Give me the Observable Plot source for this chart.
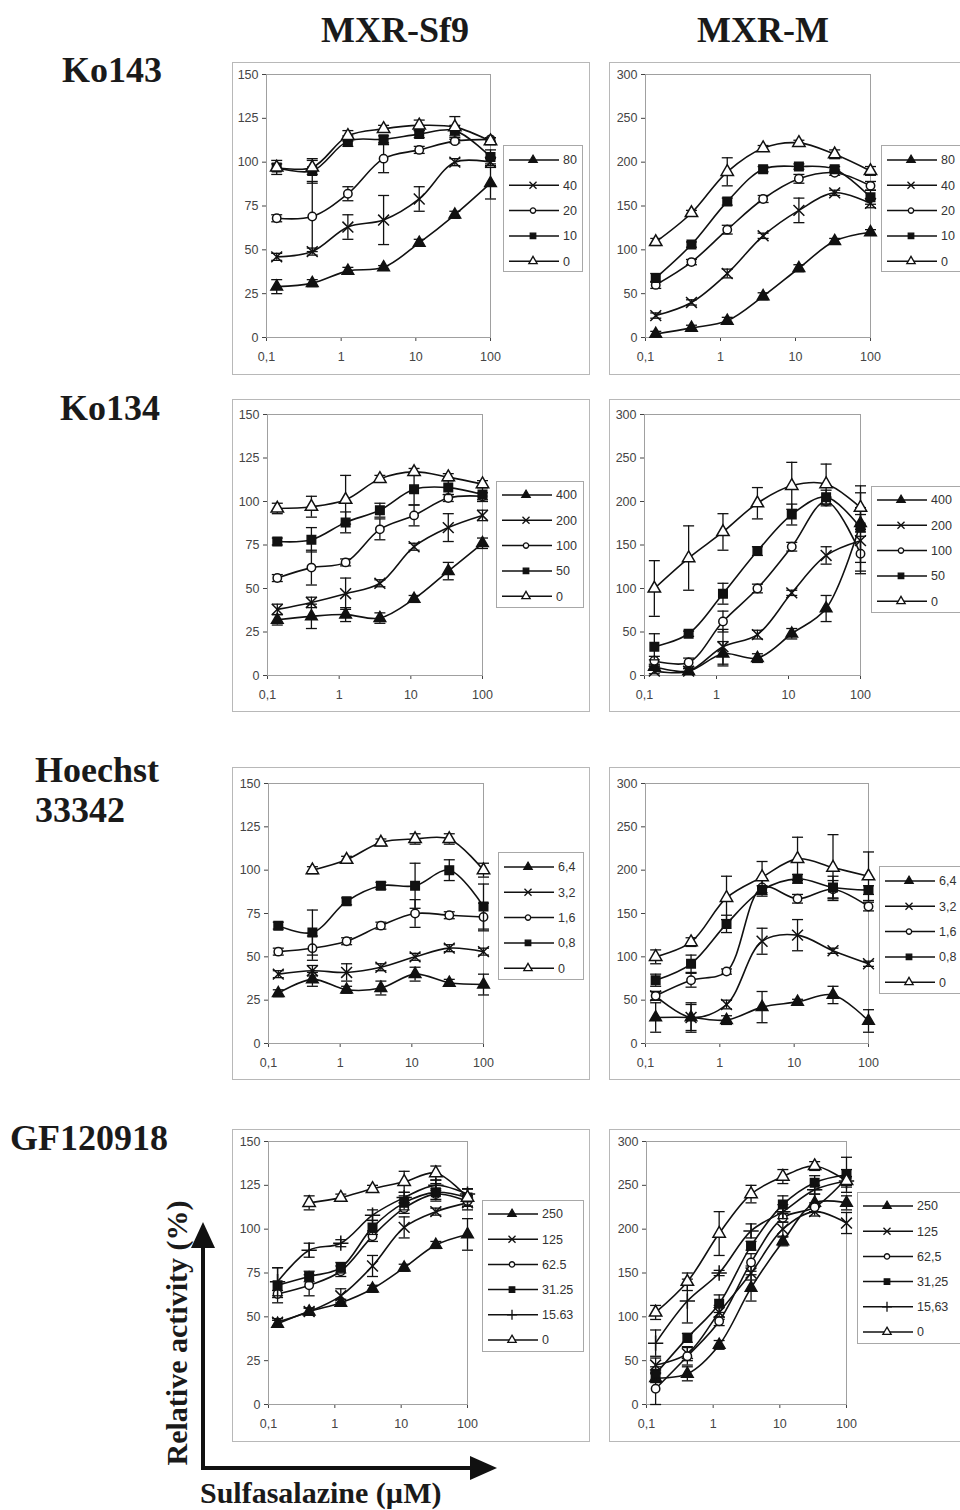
<!DOCTYPE html>
<html>
<head>
<meta charset="utf-8">
<script src="https://cdn.jsdelivr.net/npm/d3@7"></script>
<script src="https://cdn.jsdelivr.net/npm/@observablehq/plot@0.6"></script>
<style>
  html, body { margin: 0; padding: 0; background: #fff; }
  body { width: 960px; height: 1510px; position: relative; overflow: hidden; }
  .panel { position: absolute; }
  .panel .border { position: absolute; left: 0; top: 0; right: 0; bottom: 0; border: 1px solid #b8b8b8; box-sizing: border-box; }
  .panel svg.plot { position: absolute; left: 0; top: 0; }
  .legend { position: absolute; border: 1px solid #a8a8a8; background: #fff; box-sizing: border-box; }
  .legend svg { position: absolute; left: 0; top: 0; overflow: visible; }
  #overlay { position: absolute; left: 0; top: 0; }
</style>
</head>
<body>
<svg id="overlay" width="960" height="1510" font-family="'Liberation Serif', 'Times New Roman', serif" font-weight="bold" fill="#1a1a1a">
  <text x="395" y="42" font-size="36" text-anchor="middle">MXR-Sf9</text>
  <text x="763" y="42" font-size="36" text-anchor="middle">MXR-M</text>
  <text x="62" y="82" font-size="36">Ko143</text>
  <text x="60" y="420" font-size="36">Ko134</text>
  <text x="35" y="782" font-size="36">Hoechst</text>
  <text x="35" y="822" font-size="36">33342</text>
  <text x="10" y="1150" font-size="36">GF120918</text>
  <text transform="translate(187,1333) rotate(-90)" font-size="30" text-anchor="middle">Relative activity (%)</text>
  <text x="200" y="1503" font-size="30">Sulfasalazine (µM)</text>
  <line x1="203" y1="1470" x2="203" y2="1245" stroke="#111" stroke-width="4"/>
  <polygon points="191,1248 215,1248 203,1222" fill="#111"/>
  <line x1="201" y1="1468" x2="472" y2="1468" stroke="#111" stroke-width="4"/>
  <polygon points="470,1456 470,1480 497,1468" fill="#111"/>
</svg>
<script>
// ---------- data ----------
const conc = [0.137, 0.41, 1.23, 3.7, 11.1, 33.3, 100];
const xTicks = [0.1, 1, 10, 100];
const xTickLabels = ["0,1", "1", "10", "100"];

const ko143Labels = ["80", "40", "20", "10", "0"];
const ko143Sf9Mean = [
  [29, 31, 38, 40, 54, 70, 88],
  [46, 49, 63, 67, 79, 100, 100],
  [68, 69, 82, 102, 107, 112, 113],
  [97, 95, 112, 113, 116, 118, 103],
  [97, 97, 115, 119, 121, 120, 112]
];
const ko143Sf9Err = [
  [4, 2, 2, 1, 2, 2, 9],
  [2, 2, 7, 14, 7, 2, 2],
  [2, 20, 4, 8, 2, 1, 1],
  [4, 7, 3, 2, 2, 3, 4],
  [2, 4, 3, 2, 3, 6, 2]
];
const ko143MMean = [
  [4, 11, 19, 47, 79, 110, 120],
  [25, 40, 73, 116, 145, 165, 153],
  [60, 86, 123, 158, 181, 188, 173],
  [68, 106, 155, 192, 195, 192, 160],
  [109, 142, 189, 216, 222, 209, 190]
];
const ko143MErr = [
  [3, 3, 4, 4, 4, 3, 3],
  [3, 3, 5, 3, 14, 3, 5],
  [4, 3, 5, 4, 5, 3, 5],
  [5, 3, 4, 3, 3, 3, 8],
  [4, 3, 16, 3, 3, 5, 5]
];

const ko134Labels = ["400", "200", "100", "50", "0"];
const ko134Sf9Mean = [
  [32, 34, 35, 33, 44, 60, 76],
  [38, 42, 47, 53, 74, 85, 92],
  [56, 62, 65, 84, 92, 102, 103],
  [77, 78, 88, 95, 107, 108, 104],
  [96, 97, 101, 113, 117, 114, 110]
];
const ko134Sf9Err = [
  [3, 7, 4, 3, 2, 5, 3],
  [3, 3, 9, 2, 2, 8, 3],
  [2, 10, 2, 6, 6, 2, 2],
  [2, 7, 6, 4, 9, 4, 4],
  [3, 6, 14, 2, 2, 2, 2]
];
const ko134MMean = [
  [10, 5, 25, 20, 48, 77, 175],
  [5, 5, 33, 47, 95, 138, 155],
  [17, 15, 62, 100, 148, 200, 140],
  [33, 48, 94, 143, 185, 205, 170],
  [100, 135, 165, 198, 218, 220, 193]
];
const ko134MErr = [
  [3, 3, 14, 5, 6, 15, 10],
  [3, 3, 20, 5, 3, 10, 38],
  [5, 5, 12, 5, 5, 5, 20],
  [15, 3, 12, 5, 12, 8, 40],
  [32, 37, 21, 18, 27, 23, 25]
];

const hoechstLabels = ["6,4", "3,2", "1,6", "0,8", "0"];
const hoechstSf9Mean = [
  [29, 37, 31, 32, 40, 35, 34],
  [40, 42, 41, 44, 50, 55, 53],
  [53, 55, 59, 68, 75, 74, 73],
  [68, 64, 82, 91, 91, 100, 79],
  [null, 100, 106, 116, 118, 118, 100]
];
const hoechstSf9Err = [
  [2, 4, 2, 4, 4, 2, 6],
  [2, 3, 5, 2, 2, 2, 2],
  [2, 7, 2, 2, 8, 2, 8],
  [2, 13, 2, 2, 13, 6, 13],
  [0, 2, 2, 2, 3, 3, 4]
];
const hoechstMMean = [
  [30, 30, 27, 42, 48, 56, 26],
  [55, 30, 45, 118, 125, 107, 92],
  [55, 73, 83, 180, 167, 178, 158],
  [73, 92, 138, 177, 190, 180, 177],
  [100, 117, 168, 192, 213, 203, 193]
];
const hoechstMErr = [
  [17, 15, 5, 18, 3, 10, 13],
  [5, 17, 5, 15, 18, 3, 3],
  [5, 8, 3, 10, 5, 10, 5],
  [7, 10, 10, 5, 5, 13, 5],
  [8, 5, 25, 18, 25, 38, 28]
];

const gfSf9Labels = ["250", "125", "62.5", "31.25", "15.63", "0"];
const gfMLabels = ["250", "125", "62,5", "31,25", "15,63", "0"];
const gfSf9Mean = [
  [46, 53, 58, 66, 78, 91, 97],
  [47, 53, 62, 79, 101, 110, 115],
  [63, 68, 76, 96, 112, 120, 116],
  [68, 73, 78, 101, 115, 121, 118],
  [70, 88, 92, 108, 118, 125, 120],
  [null, 115, 118, 123, 127, 132, 118]
];
const gfSf9Err = [
  [2, 2, 2, 2, 2, 2, 9],
  [2, 2, 4, 6, 6, 2, 4],
  [2, 6, 3, 3, 3, 3, 3],
  [10, 3, 3, 4, 4, 5, 5],
  [8, 4, 2, 3, 3, 3, 3],
  [0, 4, 2, 2, 6, 4, 5]
];
const gfMMean = [
  [30, 35, 68, 133, 186, 230, 230],
  [45, 58, 105, 150, 200, 220, 207],
  [18, 55, 95, 162, 213, 225, 258],
  [35, 76, 115, 181, 228, 253, 262],
  [70, 118, 150, 198, 220, 245, 255],
  [105, 140, 195, 240, 260, 272, 255]
];
const gfMErr = [
  [5, 8, 5, 15, 5, 10, 8],
  [8, 8, 8, 8, 8, 5, 12],
  [18, 10, 5, 10, 5, 5, 10],
  [8, 5, 10, 5, 10, 8, 20],
  [15, 25, 3, 8, 8, 5, 5],
  [8, 10, 25, 10, 8, 5, 5]
];

const symbols5 = ["triF", "times", "circle", "squareF", "triO"];
const symbols6 = ["triF", "times", "circle", "squareF", "plus", "triO"];

// ---------- styles ----------
const symStyle = {
  triF:    {symbol: "triangle", fill: "#111", stroke: "#111", r: 4.3, d3: d3.symbolTriangle, lsize: 30},
  times:   {symbol: "times", fill: "none", stroke: "#111", r: 5.0, d3: d3.symbolTimes, lsize: 34},
  circle:  {symbol: "circle", fill: "#fff", stroke: "#111", r: 4.2, d3: d3.symbolCircle, lsize: 22},
  squareF: {symbol: "square", fill: "#111", stroke: "#111", r: 4.8, d3: d3.symbolSquare, lsize: 30},
  plus:    {symbol: "plus", fill: "none", stroke: "#111", r: 5.0, d3: d3.symbolPlus, lsize: 34},
  triO:    {symbol: "triangle", fill: "#fff", stroke: "#111", r: 4.6, d3: d3.symbolTriangle, lsize: 30}
};
const capSymbol = {
  draw(ctx, size) {
    const w = Math.sqrt(size / Math.PI);
    ctx.moveTo(-w, 0);
    ctx.lineTo(w, 0);
  }
};

function makePanel(cfg) {
  const {box, plot, yMax, yStep, labels, means, errs, syms, legend} = cfg;
  const div = document.createElement("div");
  div.className = "panel";
  Object.assign(div.style, {left: box.x + "px", top: box.y + "px", width: box.w + "px", height: box.h + "px"});
  const border = document.createElement("div");
  border.className = "border";
  div.appendChild(border);

  const marks = [Plot.frame({stroke: "#a0a0a0"})];
  labels.forEach((lab, i) => {
    const rows = [];
    conc.forEach((c, j) => {
      const v = means[i][j];
      if (v == null) return;
      rows.push({x: c, y: v, e: errs[i][j]});
    });
    const eb = rows.filter(d => d.e > 0);
    const st = symStyle[syms[i]];
    marks.push(
      Plot.ruleX(eb, {x: "x", y1: d => d.y - d.e, y2: d => d.y + d.e, stroke: "#111", strokeWidth: 1.3}),
      Plot.dot(eb, {x: "x", y: d => d.y - d.e, symbol: capSymbol, r: 5.5, stroke: "#111", strokeWidth: 1.3, fill: "none"}),
      Plot.dot(eb, {x: "x", y: d => d.y + d.e, symbol: capSymbol, r: 5.5, stroke: "#111", strokeWidth: 1.3, fill: "none"}),
      Plot.line(rows, {x: "x", y: "y", curve: "catmull-rom", stroke: "#111", strokeWidth: 1.6}),
      Plot.dot(rows, {x: "x", y: "y", symbol: st.symbol, r: st.r, fill: st.fill, stroke: st.stroke, strokeWidth: 1.5})
    );
  });

  const chart = Plot.plot({
    width: box.w,
    height: box.h,
    marginLeft: plot.x0 - box.x,
    marginRight: box.x + box.w - plot.x1,
    marginTop: plot.y0 - box.y,
    marginBottom: box.y + box.h - plot.y1,
    style: {fontFamily: "'Liberation Sans', Arial, sans-serif", fontSize: "12.5px", color: "#444", background: "transparent", overflow: "visible"},
    x: {type: "log", domain: [0.1, 100], ticks: xTicks, tickFormat: d => xTickLabels[xTicks.indexOf(d)], tickSize: 4, tickPadding: 11, label: null},
    y: {domain: [0, yMax], ticks: d3.range(0, yMax + 1, yStep), tickSize: 4, tickPadding: 4, label: null},
    marks
  });
  chart.classList.add("plot");
  div.appendChild(chart);

  // legend
  const lg = document.createElement("div");
  lg.className = "legend";
  Object.assign(lg.style, {left: (legend.x - box.x) + "px", top: (legend.y - box.y) + "px", width: legend.w + "px", height: legend.h + "px"});
  div.appendChild(lg);
  const svg = d3.select(lg).append("svg").attr("width", legend.w).attr("height", legend.h)
    .style("font-family", "'Liberation Sans', Arial, sans-serif").style("font-size", "12.5px");
  labels.forEach((lab, i) => {
    const st = symStyle[syms[i]];
    const y = legend.first + i * legend.step;
    const g = svg.append("g").attr("transform", `translate(0,${y})`);
    g.append("line").attr("x1", 5).attr("x2", 55).attr("stroke", "#111").attr("stroke-width", 1.5);
    g.append("path").attr("transform", "translate(29,0)")
      .attr("d", d3.symbol(st.d3, st.lsize)())
      .attr("fill", st.fill).attr("stroke", st.stroke).attr("stroke-width", 1.3);
    g.append("text").attr("x", 59).attr("dy", "0.35em").attr("fill", "#333").text(lab);
  });
  document.body.appendChild(div);
}

const sf9Box = (y) => ({x: 232, y, w: 358, h: 313});
const mBox = (y) => ({x: 609, y, w: 362, h: 313});

makePanel({box: sf9Box(62), plot: {x0: 266, x1: 490, y0: 74, y1: 337}, yMax: 150, yStep: 25,
  labels: ko143Labels, means: ko143Sf9Mean, errs: ko143Sf9Err, syms: symbols5,
  legend: {x: 503, y: 145, w: 80, h: 127, first: 14, step: 25.3}});
makePanel({box: mBox(62), plot: {x0: 645, x1: 870, y0: 74, y1: 337}, yMax: 300, yStep: 50,
  labels: ko143Labels, means: ko143MMean, errs: ko143MErr, syms: symbols5,
  legend: {x: 881, y: 145, w: 84, h: 127, first: 14, step: 25.3}});

makePanel({box: sf9Box(399), plot: {x0: 267, x1: 482, y0: 414, y1: 675}, yMax: 150, yStep: 25,
  labels: ko134Labels, means: ko134Sf9Mean, errs: ko134Sf9Err, syms: symbols5,
  legend: {x: 496, y: 481, w: 88, h: 127, first: 13, step: 25.3}});
makePanel({box: mBox(399), plot: {x0: 644, x1: 860, y0: 414, y1: 675}, yMax: 300, yStep: 50,
  labels: ko134Labels, means: ko134MMean, errs: ko134MErr, syms: symbols5,
  legend: {x: 871, y: 486, w: 94, h: 127, first: 13, step: 25.3}});

makePanel({box: sf9Box(767), plot: {x0: 268, x1: 483, y0: 783, y1: 1043}, yMax: 150, yStep: 25,
  labels: hoechstLabels, means: hoechstSf9Mean, errs: hoechstSf9Err, syms: symbols5,
  legend: {x: 498, y: 852, w: 86, h: 128, first: 14, step: 25.3}});
makePanel({box: mBox(767), plot: {x0: 645, x1: 868, y0: 783, y1: 1043}, yMax: 300, yStep: 50,
  labels: hoechstLabels, means: hoechstMMean, errs: hoechstMErr, syms: symbols5,
  legend: {x: 879, y: 866, w: 90, h: 128, first: 14, step: 25.3}});

makePanel({box: sf9Box(1129), plot: {x0: 268, x1: 467, y0: 1141, y1: 1404}, yMax: 150, yStep: 25,
  labels: gfSf9Labels, means: gfSf9Mean, errs: gfSf9Err, syms: symbols6,
  legend: {x: 482, y: 1200, w: 102, h: 152, first: 13, step: 25.2}});
makePanel({box: mBox(1129), plot: {x0: 646, x1: 846, y0: 1141, y1: 1404}, yMax: 300, yStep: 50,
  labels: gfMLabels, means: gfMMean, errs: gfMErr, syms: symbols6,
  legend: {x: 857, y: 1192, w: 110, h: 152, first: 13, step: 25.2}});

// keep the overlay text and arrows on top
document.body.appendChild(document.getElementById("overlay"));
</script>
</body>
</html>
